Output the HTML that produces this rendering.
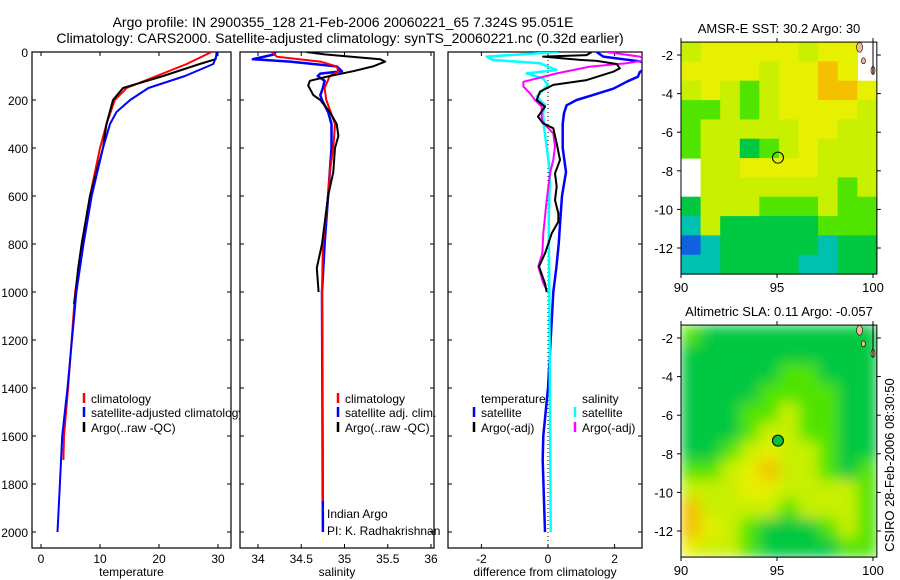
<!DOCTYPE html>
<html><head><meta charset="utf-8">
<style>
body{margin:0;background:#fff;}
svg{display:block;font-family:"Liberation Sans",sans-serif;}
text{fill:#000;}
</style></head>
<body>
<svg id="fig" width="900" height="580" viewBox="0 0 900 580">
<text x="343" y="27" font-size="14" text-anchor="middle">Argo profile: IN 2900355_128 21-Feb-2006 20060221_65 7.324S 95.051E</text>
<text x="340" y="43" font-size="14" text-anchor="middle">Climatology: CARS2000. Satellite-adjusted climatology: synTS_20060221.nc (0.32d earlier)</text>
<text transform="translate(894,465) rotate(-90)" font-size="13" text-anchor="middle">CSIRO 28-Feb-2006 08:30:50</text>
</svg>
<script>
// ---------- data ----------
const depthTicks=[0,200,400,600,800,1000,1200,1400,1600,1800,2000];
const tempTicks=[0,10,20,30];
const salTicks=[34,34.5,35,35.5,36];
const salTickLabels=["34","34.5","35","35.5","36"];
const diffTicks=[-2,0,2];

const tClimDepth=[0,50,100,150,200,300,400,600,800,1000,1400,1600,1700];
const tClim=[28.9,24.7,19.6,14.5,12.5,11.1,10.0,8.3,6.9,5.8,4.6,3.9,3.8];
const tSatDepth=[0,50,100,150,200,250,300,400,600,800,1000,1400,1600,1800,2000];
const tSat=[30.0,29.2,24.4,18.2,15.1,12.8,11.7,10.5,8.6,7.2,6.0,4.5,3.6,3.2,2.8];
const tArgoDepth=[0,30,50,100,150,200,300,400,600,800,900,1000,1050];
const tArgo=[29.8,29.6,26.9,20.7,13.9,12.2,11.1,10.5,8.3,6.9,6.3,5.9,5.6];

const sClimDepth=[0,20,40,60,80,100,150,200,300,400,500,600,800,1000,1870];
const sClim=[34.16,34.22,34.72,34.91,34.93,34.83,34.77,34.79,34.89,34.87,34.83,34.81,34.75,34.74,34.75];
const sSatDepth=[0,10,30,40,60,80,90,100,120,150,180,200,250,300,400,500,600,800,1000,2000];
const sSat=[34.20,34.19,33.94,34.37,34.91,34.97,34.72,34.69,34.77,34.75,34.72,34.74,34.81,34.85,34.85,34.83,34.81,34.77,34.74,34.75];
const sArgoDepth=[0,10,30,40,60,80,100,120,140,180,200,250,300,350,400,500,600,800,900,1000];
const sArgo=[34.56,34.77,35.41,35.47,35.33,35.10,34.83,34.60,34.58,34.64,34.72,34.83,34.91,34.93,34.89,34.87,34.81,34.74,34.68,34.70];

const dTSatDepth=[0,19,43,63,83,103,124,153,183,200,222,255,300,400,500,600,700,800,900,1000,1400,1600,1700,2000];
const dTSat=[1.46,1.66,2.96,3.0,2.76,2.70,2.36,1.96,1.26,0.86,0.56,0.48,0.44,0.44,0.54,0.42,0.37,0.32,0.25,0.16,0,-0.14,-0.16,-0.09];
const dTArgoDepth=[0,13,19,33,37,50,68,82,117,137,165,200,228,269,297,318,381,450,506,561,617,672,707,756,839,894,964,1000];
const dTArgo=[1.31,1.16,-0.15,0.96,1.46,2.06,2.16,1.96,1.16,0.16,-0.24,-0.34,-0.09,-0.30,-0.15,0.16,0.26,0.36,0.21,0.26,0.21,0.31,0.31,0.11,-0.09,-0.27,-0.09,-0.04];
const dSSatDepth=[0,19,33,47,75,89,110,137,186,221,255,311,395,506,700,1000,1500,2000];
const dSSat=[0.31,-1.84,-1.66,-0.24,0.26,-0.64,-0.15,0,-0.34,-0.09,-0.15,-0.12,-0.04,0.06,0.02,0.04,0.06,0.08];
const dSArgoDepth=[0,19,33,47,61,89,124,144,172,200,228,283,311,339,395,450,506,617,756,839,894,964,992];
const dSArgo=[1.76,2.76,2.96,2.36,1.26,0.26,-0.74,-0.74,-0.54,-0.39,-0.19,-0.19,-0.04,0.16,0.21,0.16,0.06,-0.04,-0.14,-0.17,-0.29,-0.14,-0.04];

const mapLonTicks=[90,95,100];
const mapLatTicks=[-2,-4,-6,-8,-10,-12];
// 0 blue,1 teal,2 green,3 light green,4 yellow-green,5 yellow,6 orange, 9 no data
const sstGrid=[
[4,5,5,5,5,5,4,5,5,9],
[5,5,5,5,4,5,5,6,5,9],
[4,5,4,3,4,5,5,6,6,5],
[3,3,4,3,4,5,5,5,5,4],
[3,4,4,4,4,4,5,5,4,4],
[3,4,4,2,3,4,5,4,4,4],
[9,4,4,5,5,5,5,4,4,4],
[9,4,4,4,4,4,4,4,3,4],
[2,4,4,4,3,3,3,4,3,3],
[1,4,2,2,2,2,2,3,3,3],
[0,1,2,2,2,2,2,1,2,2],
[1,1,2,2,2,2,1,1,2,2]];
const slaGrid=[
[3,2,2,2,2,2,2,2,2,2],
[2,2,2,2,2,2,2,2,2,2],
[2,2,2,2,2,3,3,2,2,2],
[2,2,2,2,3,3,3,3,2,2],
[2,2,2,3,3,4,3,3,2,2],
[2,2,2,3,4,4,3,3,2,2],
[2,2,3,4,5,4,4,3,2,2],
[3,3,4,5,6,4,4,3,2,3],
[4,4,4,5,5,4,4,4,4,3],
[6,4,4,4,4,3,4,4,4,3],
[6,5,4,3,2,2,2,3,4,3],
[5,4,4,3,2,2,2,2,3,3]];
const palette=["#1060e0","#00c0b0","#00c840","#50e400","#c8f000","#e6f000","#f4c000"];

// ---------- drawing ----------
const NS="http://www.w3.org/2000/svg";
const svg=document.getElementById('fig');
function el(tag,attrs,parent){const e=document.createElementNS(NS,tag);for(const k in attrs)e.setAttribute(k,attrs[k]);(parent||svg).appendChild(e);return e;}
function txt(x,y,s,size,anchor,parent){const t=el('text',{x:x,y:y,'font-size':size,'text-anchor':anchor||'start'},parent);t.textContent=s;return t;}

const Y0=52,Y1=548,ky=0.24;
const yD=d=>Y0+d*ky;

function panel(name,x0,x1,xs,ticks,labels,xlabel,showY){
  const g=el('g',{});
  
  
  const r=el('rect',{x:x0,y:Y0,width:x1-x0,height:Y1-Y0,fill:'#fff',stroke:'#000','stroke-width':1.2},g);
  
  
  depthTicks.forEach(d=>{const y=yD(d);
    el('line',{x1:x0,y1:y,x2:x0+4,y2:y,stroke:'#000'},g);
    el('line',{x1:x1,y1:y,x2:x1-4,y2:y,stroke:'#000'},g);
    if(showY){const t=txt(x0-4,y+5,String(d),12,'end',g);
      
      }
  });
  ticks.forEach((v,i)=>{const x=xs(v);
    el('line',{x1:x,y1:Y1,x2:x,y2:Y1-4,stroke:'#000'},g);
    el('line',{x1:x,y1:Y0,x2:x,y2:Y0+4,stroke:'#000'},g);
    const t=txt(x,Y1+15,labels[i],12,'middle',g);
    
    
  });
  const xl=txt((x0+x1)/2,Y1+28,xlabel,12,'middle',g);
  
  
  return g;
}
function series(g,name,xs,vals,depths,color,w,clip){
  const pts=vals.map((v,i)=>xs(v).toFixed(1)+','+yD(depths[i]).toFixed(1)).join(' ');
  const p=el('polyline',{points:pts,fill:'none',stroke:color,'stroke-width':w,'stroke-linejoin':'round','clip-path':clip||''},g);
  
  
}
function legend(g,x,y,color,label,name){
  if(color){const m=el('line',{x1:x,y1:y-10,x2:x,y2:y,stroke:color,'stroke-width':2.5},g);
    
    }
  const t=txt(x+7,y,label,12,'start',g);
  
  
}
el('defs',{}).innerHTML='<clipPath id="c1"><rect x="32" y="52" width="199" height="496"/></clipPath><clipPath id="c2"><rect x="240" y="52" width="194" height="496"/></clipPath><clipPath id="c3"><rect x="448" y="52" width="194" height="496"/></clipPath><filter id="blur" x="0" y="0" width="1" height="1"><feGaussianBlur stdDeviation="7" edgeMode="duplicate"/></filter>';

// Temperature
const xT=v=>41+v*5.9;
const g1=panel('temperature-panel',32,231,xT,tempTicks,tempTicks.map(String),'temperature',true);
series(g1,'temp-climatology-line',xT,tClim,tClimDepth,'#f00',2,'url(#c1)');
series(g1,'temp-argo-line',xT,tArgo,tArgoDepth,'#000',2,'url(#c1)');
series(g1,'temp-satellite-line',xT,tSat,tSatDepth,'#00f',2,'url(#c1)');
legend(g1,84,403,'#f00','climatology','legend-climatology');
legend(g1,84,417,'#00f','satellite-adjusted climatology','legend-satellite-adjusted');
legend(g1,84,432,'#000','Argo(..raw -QC)','legend-argo');

// Salinity
const xS=v=>258+(v-34)*86.5;
const g2=panel('salinity-panel',240,434,xS,salTicks,salTickLabels,'salinity',false);
series(g2,'sal-satellite-line',xS,sSat,sSatDepth,'#00f',2.5,'url(#c2)');
series(g2,'sal-climatology-line',xS,sClim,sClimDepth,'#f00',2,'url(#c2)');
series(g2,'sal-argo-line',xS,sArgo,sArgoDepth,'#000',2,'url(#c2)');
legend(g2,338,403,'#f00','climatology','legend-sal-climatology');
legend(g2,338,417,'#00f','satellite adj. clim.','legend-sal-satellite');
legend(g2,338,432,'#000','Argo(..raw -QC)','legend-sal-argo');
legend(g2,320,518,null,'Indian Argo','credit-indian-argo');
legend(g2,320,535,null,'PI: K. Radhakrishnan','credit-pi');

// Differences
const xD=v=>548+v*33.3;
const g3=panel('difference-panel',448,642,xD,diffTicks,diffTicks.map(String),'difference from climatology',false);
const z=el('line',{x1:xD(0),y1:Y0,x2:xD(0),y2:Y1,stroke:'#000','stroke-dasharray':'1,3'},g3);


series(g3,'diff-temp-satellite-line',xD,dTSat,dTSatDepth,'#00f',2.5,'url(#c3)');
series(g3,'diff-sal-satellite-line',xD,dSSat,dSSatDepth,'#0ff',2.5,'url(#c3)');
series(g3,'diff-sal-argo-line',xD,dSArgo,dSArgoDepth,'#f0f',2,'url(#c3)');
series(g3,'diff-temp-argo-line',xD,dTArgo,dTArgoDepth,'#000',2,'url(#c3)');
legend(g3,474,403,null,'temperature','legend-temperature-header');
legend(g3,474,417,'#00f','satellite','legend-temp-satellite');
legend(g3,474,432,'#000','Argo(-adj)','legend-temp-argo');
legend(g3,575,403,null,'salinity','legend-salinity-header');
legend(g3,575,417,'#0ff','satellite','legend-sal-satellite-diff');
legend(g3,575,432,'#f0f','Argo(-adj)','legend-sal-argo-diff');

// Maps
function map(name,yMinus2,title,grid,dotFill,smooth){
  const g=el('g',{});
  
  
  const xL=lon=>681+(lon-90)*19.2;
  const yL=lat=>yMinus2+(-2-lat)*19.3;
  const latTop=-1.33,latBot=-13.35,lonR=100.2;
  const ncol=grid[0].length,nrow=grid.length;
  const cw=(xL(lonR)-xL(90))/ncol, chh=(yL(latBot)-yL(latTop))/nrow;
  const cells=el('g',smooth?{filter:'url(#blur)'}:{},g);
  
  
  grid.forEach((row,r)=>row.forEach((v,c)=>{
    if(v===9)return;
    const cell=el('rect',{x:(xL(90)+c*cw).toFixed(1),y:(yL(latTop)+r*chh).toFixed(1),width:(cw+0.6).toFixed(1),height:(chh+0.6).toFixed(1),fill:palette[v]},cells);
    
    
  }));
  const fr=el('rect',{x:xL(90),y:yL(latTop),width:xL(lonR)-xL(90),height:yL(latBot)-yL(latTop),fill:'none',stroke:'#000'},g);
  
  
  el('ellipse',{cx:xL(99.3),cy:yL(-1.6),rx:3,ry:5,fill:'#f4b890',stroke:'#000','stroke-width':0.6},g);
  el('ellipse',{cx:xL(99.5),cy:yL(-2.3),rx:2,ry:3,fill:'#f4b890',stroke:'#000','stroke-width':0.6},g);
  el('ellipse',{cx:xL(100.0),cy:yL(-2.8),rx:2,ry:4,fill:'#f4b890',stroke:'#000','stroke-width':0.6},g);
  el('line',{x1:xL(100),y1:yL(latTop),x2:xL(100),y2:yL(-3),stroke:'#000'},g);
  mapLonTicks.forEach(l=>{const x=xL(l);
    el('line',{x1:x,y1:yL(latBot),x2:x,y2:yL(latBot)+4,stroke:'#000'},g);
    el('line',{x1:x,y1:yL(latTop),x2:x,y2:yL(latTop)-4,stroke:'#000'},g);
    const t=txt(x,yL(latBot)+18,String(l),13,'middle',g);
    
    });
  mapLatTicks.forEach(l=>{const y=yL(l);
    el('line',{x1:xL(90)-4,y1:y,x2:xL(90),y2:y,stroke:'#000'},g);
    el('line',{x1:xL(lonR),y1:y,x2:xL(lonR)+4,y2:y,stroke:'#000'},g);
    const t=txt(xL(90)-8,y+5,String(l),13,'end',g);
    
    });
  const c=el('circle',{cx:xL(95.05),cy:yL(-7.32),r:5.5,fill:dotFill,stroke:'#000','stroke-width':1},g);
  
  
  const t=txt(779,yL(latTop)-9,title,13,'middle',g);
  
  
}
map('sst-map',55,'AMSR-E SST: 30.2 Argo: 30',sstGrid,'none',false);
map('sla-map',338,'Altimetric SLA: 0.11 Argo: -0.057',slaGrid,'#00c040',true);
</script>
</body></html>
